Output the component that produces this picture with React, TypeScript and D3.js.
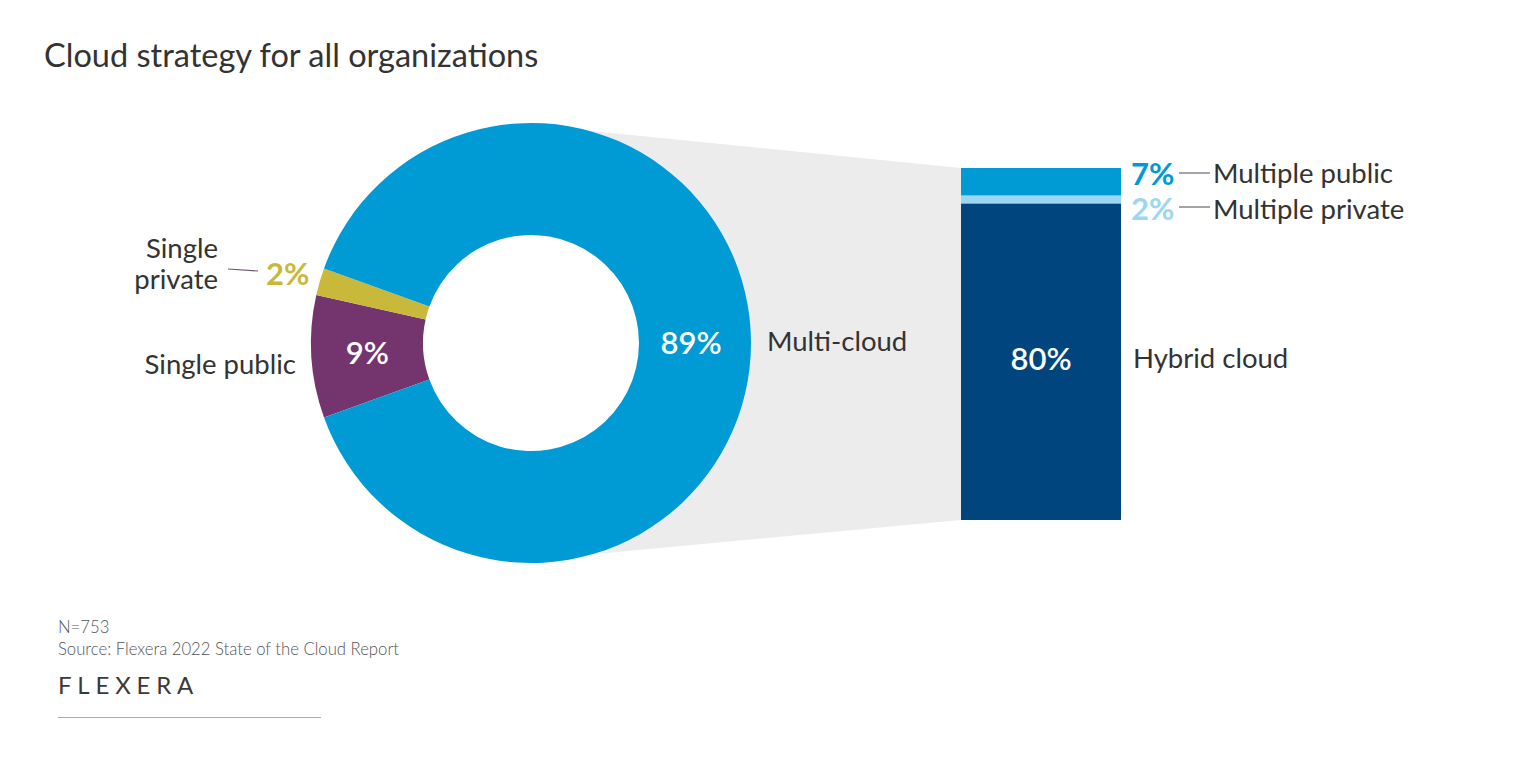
import React from "react";
import * as d3 from "d3";

const donutCategories = ["Single public", "Single private", "Multi-cloud"];
const donutValues = [9, 2, 89];
const donutLabels = ["9%", "2%", "89%"];
const donutColors = ["#74356f", "#c9b93b", "#009ad4"];

const barCategories = ["Multiple public", "Multiple private", "Hybrid cloud"];
const barValues = [7, 2, 80];
const barLabels = ["7%", "2%", "80%"];
const barColors = ["#009ad4", "#9bd7f0", "#00457e"];

const title = "Cloud strategy for all organizations";
const footnotes = ["N=753", "Source: Flexera 2022 State of the Cloud Report"];

const FONT = "Lato, 'Noto Sans', sans-serif";
const TEXT = "#333333";
const LABEL = 27.5;
const PCT = 31;

export default function App() {
  const W = 1536;
  const H = 768;
  const cx = 531;
  const cy = 343;
  const rOuter = 220;
  const rInner = 108;

  const smallShare = (donutValues[0] + donutValues[1]) / d3.sum(donutValues);
  const start = (3 * Math.PI) / 2 - smallShare * Math.PI;
  const pie = d3
    .pie<number>()
    .sort(null)
    .value((d) => d)
    .startAngle(start)
    .endAngle(start + 2 * Math.PI);
  const arcs = pie(donutValues);
  const arcGen = d3.arc<d3.PieArcDatum<number>>().innerRadius(rInner).outerRadius(rOuter);

  const barX = 961;
  const barW = 160;
  const barTotal = d3.sum(barValues);
  const y = d3.scaleLinear().domain([0, barTotal]).range([168, 520]);
  const stacked = barValues.map((v, i) => {
    const s = d3.sum(barValues.slice(0, i));
    return { v, y0: y(s), y1: y(s + v) };
  });

  const poly = [
    [cx, cy - rOuter + 2],
    [barX, y(0)],
    [barX, y(barTotal)],
    [cx, cy + rOuter - 3],
  ];

  const centroidPublic = arcGen.centroid(arcs[0]);
  const centroidMulti = arcGen.centroid(arcs[2]);

  return (
    <svg
      width={W}
      height={H}
      style={{ position: "absolute", left: 0, top: 0, background: "#fff" }}
      fontFamily={FONT}
    >
      <text x={44} y={67} fontSize={32.5} fill={TEXT}>
        {title}
      </text>

      <polygon points={poly.map((p) => p.join(",")).join(" ")} fill="#ececec" />

      <g transform={`translate(${cx},${cy})`}>
        <circle r={rInner} fill="#fff" />
        {arcs.map((a, i) => (
          <path key={donutCategories[i]} d={arcGen(a) || ""} fill={donutColors[i]} />
        ))}
        <text
          x={centroidPublic[0]}
          y={centroidPublic[1]}
          dy="0.35em"
          textAnchor="middle"
          fontSize={PCT}
          fontWeight={600}
          fill="#fff"
        >
          {donutLabels[0]}
        </text>
        <text
          x={centroidMulti[0] - 4}
          y={centroidMulti[1]}
          dy="0.35em"
          textAnchor="middle"
          fontSize={PCT}
          fontWeight={600}
          fill="#fff"
        >
          {donutLabels[2]}
        </text>
      </g>

      {/* donut outside labels */}
      <text x={767} y={351} fontSize={LABEL} fill={TEXT}>
        {donutCategories[2]}
      </text>
      <text x={296} y={374} fontSize={LABEL} fill={TEXT} textAnchor="end">
        {donutCategories[0]}
      </text>
      <text x={218} y={258} fontSize={LABEL} fill={TEXT} textAnchor="end">
        Single
      </text>
      <text x={218} y={289} fontSize={LABEL} fill={TEXT} textAnchor="end">
        private
      </text>
      <line x1={228} y1={269} x2={258} y2={271} stroke="#6b5a6e" strokeWidth={1.2} />
      <text x={266} y={285} fontSize={PCT} fontWeight={700} fill={donutColors[1]}>
        {donutLabels[1]}
      </text>

      {/* bar */}
      {stacked.map((s, i) => (
        <rect
          key={barCategories[i]}
          x={barX}
          y={s.y0}
          width={barW}
          height={s.y1 - s.y0}
          fill={barColors[i]}
        />
      ))}
      <text
        x={barX + barW / 2}
        y={(stacked[2].y0 + stacked[2].y1) / 2 - 3}
        dy="0.35em"
        textAnchor="middle"
        fontSize={PCT}
        fontWeight={600}
        fill="#fff"
      >
        {barLabels[2]}
      </text>
      <text x={1133} y={368} fontSize={LABEL} fill={TEXT}>
        {barCategories[2]}
      </text>

      <text x={1131} y={185} fontSize={PCT} fontWeight={700} fill={barColors[0]}>
        {barLabels[0]}
      </text>
      <line x1={1179} y1={173} x2={1210} y2={173} stroke="#666" strokeWidth={1.2} />
      <text x={1213} y={183} fontSize={LABEL} fill={TEXT}>
        {barCategories[0]}
      </text>

      <text x={1131} y={220} fontSize={PCT} fontWeight={700} fill={barColors[1]}>
        {barLabels[1]}
      </text>
      <line x1={1179} y1={207} x2={1210} y2={207} stroke="#666" strokeWidth={1.2} />
      <text x={1213} y={219} fontSize={LABEL} fill={TEXT}>
        {barCategories[1]}
      </text>

      {/* footer */}
      <text x={58} y={633} fontSize={16.7} fill="#555" fontWeight={300}>
        {footnotes[0]}
      </text>
      <text x={58} y={655} fontSize={16.7} fill="#555" fontWeight={300}>
        {footnotes[1]}
      </text>
      <text x={58} y={694} fontSize={24} fill="#3a3a3a" letterSpacing={5.8} fontWeight={400}>
        FLEXERA
      </text>
      <line x1={58} y1={717.5} x2={321} y2={717.5} stroke="#aaa" strokeWidth={1} />
    </svg>
  );
}
